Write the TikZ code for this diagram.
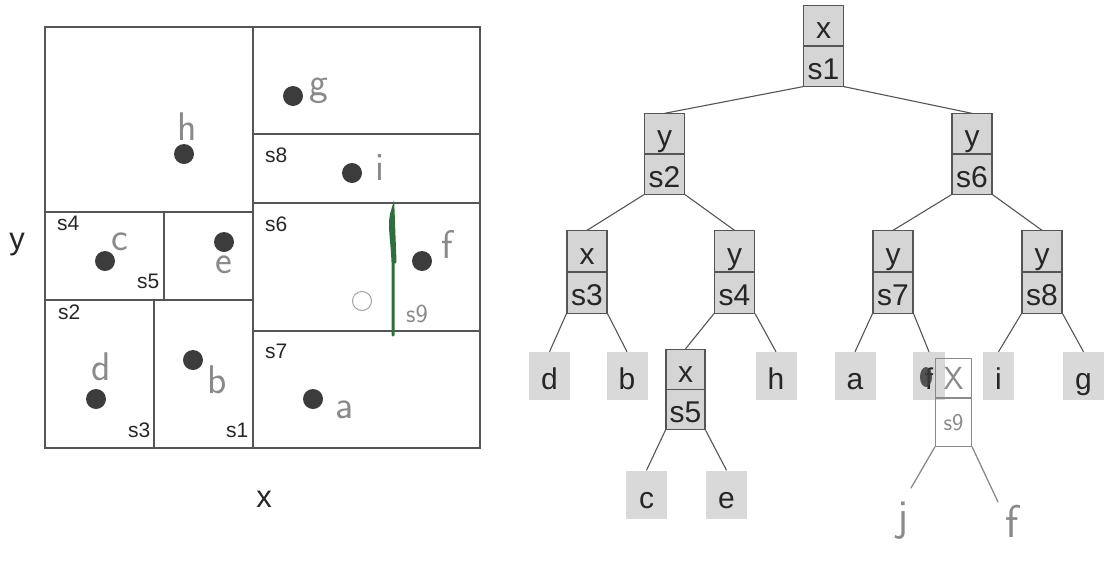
\documentclass[tikz,border=0pt]{standalone}
\usepackage{fontspec}
\setmainfont{Liberation Sans}
\usetikzlibrary{shapes.multipart}
\definecolor{ln}{HTML}{555555}
\definecolor{boxfill}{HTML}{D5D5D5}
\definecolor{leaffill}{HTML}{D9D9D9}
\definecolor{pen}{HTML}{8A8A8A}
\definecolor{greenpen}{HTML}{2F6E3E}
\definecolor{dotc}{HTML}{3C3C3C}
\definecolor{txt}{HTML}{262626}
\newcommand{\cellbox}[3]{\vbox to #1pt{\vss\hbox to #2pt{\hss\raisebox{0pt}[26pt][0pt]{#3}\hss}\vss}}
\tikzset{
  inode/.style={rectangle split, rectangle split parts=2, draw=ln, line width=1.1pt,
    fill=boxfill, inner sep=0pt, text=txt, font=\fontsize{30}{32}\selectfont},
  leaf/.style={fill=leaffill, minimum width=41pt, minimum height=48pt, inner sep=0pt,
    text height=27pt, text depth=0pt, text=txt, font=\fontsize{30}{32}\selectfont},
  edge/.style={draw=ln, line width=1.1pt},
  region/.style={draw=ln, line width=1.3pt},
  slab/.style={font=\fontsize{21}{22}\selectfont, anchor=base west, inner sep=0pt, text=txt},
  axlab/.style={font=\fontsize{31}{32}\selectfont, anchor=base, inner sep=0pt, text=txt},
  hand/.style={font=\sffamily\fontsize{40}{40}\selectfont, text=pen, anchor=base, inner sep=0pt},
  handline/.style={draw=pen, line width=1.3pt, line cap=round},
  pt/.style={circle, fill=dotc, minimum size=20pt, inner sep=0pt},
}
\begin{document}
\begin{tikzpicture}[x=1pt,y=-1pt]
\useasboundingbox (0,0) rectangle (1108,560);
% ---------------- left: space partition ----------------
\draw[region] (45,27) rectangle (480,448);
\draw[region] (253,27) -- (253,448);
\draw[region] (45,212) -- (253,212);
\draw[region] (45,300) -- (253,300);
\draw[region] (164,212) -- (164,300);
\draw[region] (154,300) -- (154,448);
\draw[region] (253,134) -- (480,134);
\draw[region] (253,203) -- (480,203);
\draw[region] (253,331) -- (480,331);
% region labels
\node[slab] (ls4) at (57,230) {s4};
\node[slab] (ls5) at (137,288) {s5};
\node[slab] (ls8) at (265,162) {s8};
\node[slab] (ls6) at (265,231) {s6};
\node[slab] (ls2) at (58,319) {s2};
\node[slab] (ls7) at (265,358) {s7};
\node[slab] (ls3) at (128,437) {s3};
\node[slab] (ls1) at (226,437) {s1};
% axis labels
\node[axlab] (ay) at (17,249) {y};
\node[axlab] (ax) at (264,507) {x};
% points
\node[pt] (pg) at (293,96) {};
\node[pt] (ph) at (184,154) {};
\node[pt] (pi) at (352,173) {};
\node[pt] (pc) at (105,261) {};
\node[pt] (pe) at (224,242) {};
\node[pt] (pf) at (422,261) {};
\node[pt] (pd) at (96,399) {};
\node[pt] (pb) at (193,360) {};
\node[pt] (pa) at (313,399) {};
\node[circle, draw=pen!80, line width=1pt, minimum size=19pt, inner sep=0pt] (pj) at (362,301) {};
% handwritten point names
\node[hand] (hg) at (319,95) {g};
\node[hand] (hh) at (187,140) {h};
\node[hand] (hi) at (380,180) {i};
\node[hand] (hc) at (120,250) {c};
\node[hand] (he) at (224,273) {e};
\node[hand] (hf) at (447,258) {f};
\node[hand] (hd) at (101,380) {d};
\node[hand] (hb) at (217,393) {b};
\node[hand] (ha) at (345,418) {a};
\node[hand, font=\sffamily\fontsize{26}{26}\selectfont] (hs9) at (417,322) {s9};
% green split line
\draw[greenpen, line width=3pt, line cap=round]
  (393,335) -- (393,262) .. controls (392,238) and (388,222) .. (393,209) -- (395,262);
% ---------------- right: kd-tree ----------------
\node[inode] (r)  at (823.5,46) {\cellbox{39}{40}{x}\nodepart{two}\cellbox{39}{40}{s1}};
\node[inode] (n2) at (664.5,154) {\cellbox{39}{40}{y}\nodepart{two}\cellbox{39}{40}{s2}};
\node[inode] (n6) at (972,154) {\cellbox{39}{40}{y}\nodepart{two}\cellbox{39}{40}{s6}};
\node[inode] (n3) at (587,272) {\cellbox{40}{40}{x}\nodepart{two}\cellbox{40}{40}{s3}};
\node[inode] (n4) at (734.5,272) {\cellbox{40}{40}{y}\nodepart{two}\cellbox{40}{40}{s4}};
\node[inode] (n7) at (893,272) {\cellbox{40}{40}{y}\nodepart{two}\cellbox{40}{40}{s7}};
\node[inode] (n8) at (1042,272) {\cellbox{40}{40}{y}\nodepart{two}\cellbox{40}{40}{s8}};
\node[inode] (n5) at (685.5,389.5) {\cellbox{39}{39}{x}\nodepart{two}\cellbox{39}{39}{s5}};
\node[leaf] (ld) at (549.5,376) {d};
\node[leaf] (lb) at (627,376) {b};
\node[leaf] (lh) at (776,376) {h};
\node[leaf] (la) at (855,376) {a};
\node[leaf, minimum width=32pt] (lf) at (929,376) {f};
\node[leaf, minimum width=31pt] (li) at (998.5,376) {i};
\node[leaf] (lg) at (1083.5,376) {g};
\node[leaf] (lc) at (646.5,494.5) {c};
\node[leaf] (le) at (726.5,494.5) {e};
\foreach \p/\c in {r/n2, n2/n3, n6/n7, n3/ld, n4/n5, n7/la, n8/li, n5/lc}
  \draw[edge] (\p.south west) -- (\c.north);
\foreach \p/\c in {r/n6, n2/n4, n6/n8, n3/lb, n4/lh, n7/lf, n8/lg, n5/le}
  \draw[edge] (\p.south east) -- (\c.north);
% handwritten additions in tree
\fill[dotc, opacity=0.85] (926,377) ellipse (6pt and 10pt);
\node[rectangle split, rectangle split parts=2, draw=pen, line width=1.3pt, inner sep=0pt,
  text=pen, font=\sffamily] (s9) at (953.5,402.5)
  {\vbox to 38pt{\vss\hbox to 36pt{\hss\fontsize{32}{32}\selectfont X\hss}\vss}\nodepart{two}\vbox to 47pt{\vss\hbox to 36pt{\hss\fontsize{24}{24}\selectfont s9\hss}\vss}};
\node[hand, font=\sffamily\fontsize{44}{44}\selectfont] (tj) at (903,530) {j};
\node[hand, font=\sffamily\fontsize{46}{46}\selectfont] (tf) at (1012,537) {f};
\coordinate (jt) at (911,488);
\coordinate (ft) at (998,502);
\draw[handline] (s9.south west) -- (jt);
\draw[handline] (s9.south east) -- (ft);
\end{tikzpicture}
\end{document}
